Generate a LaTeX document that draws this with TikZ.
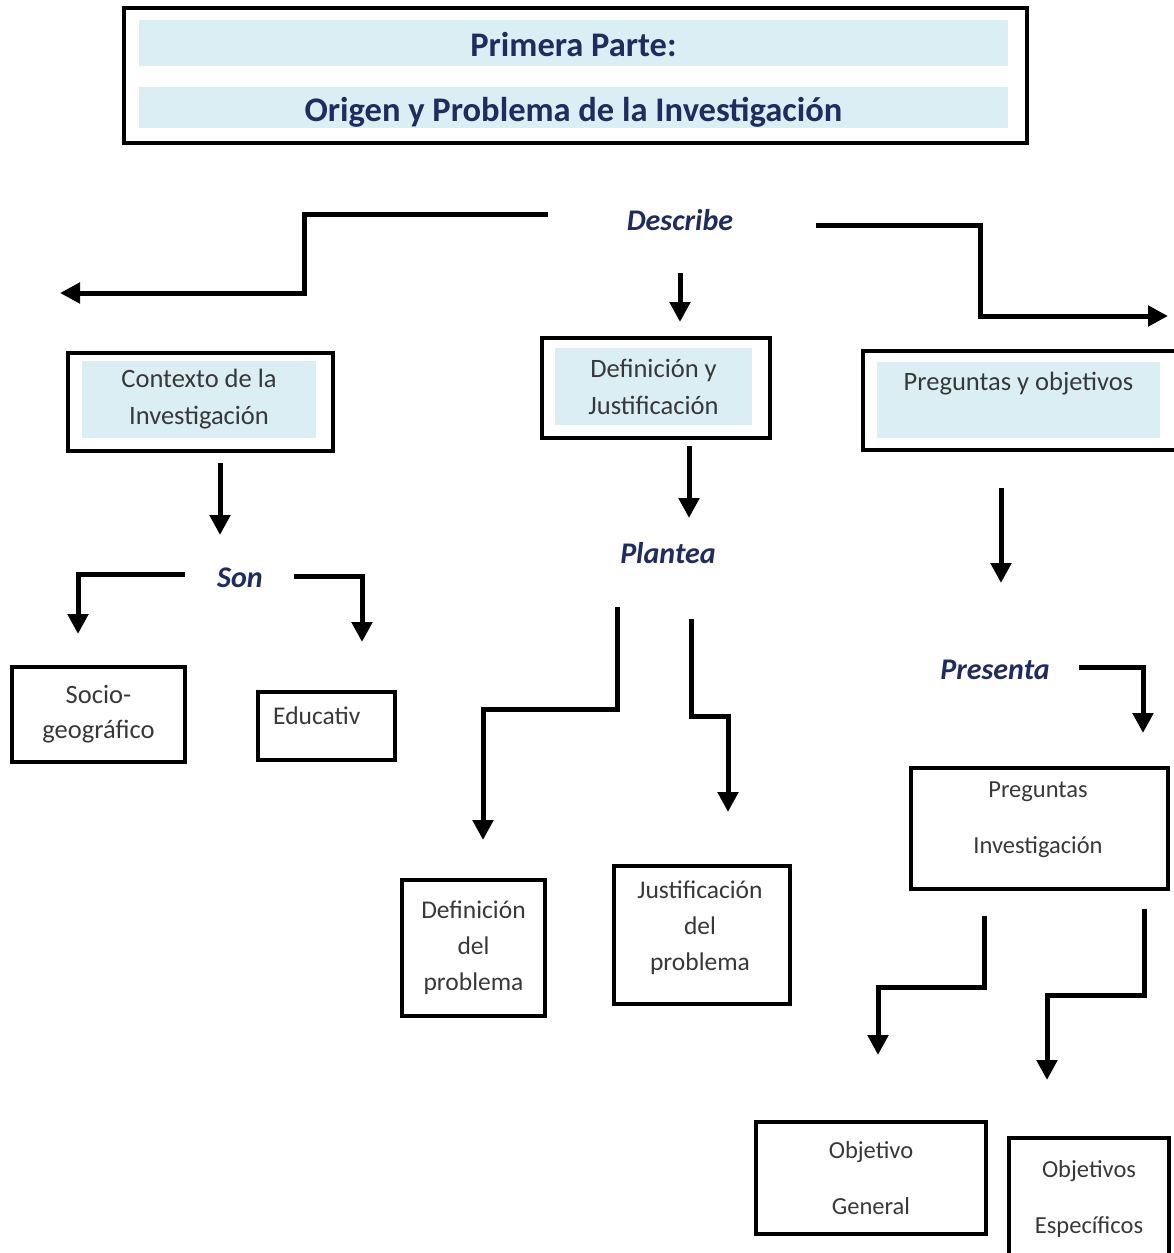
\documentclass[tikz,border=0pt]{standalone}
\usepackage{fontspec}
\setmainfont{Carlito}
\usetikzlibrary{arrows.meta}
\definecolor{celeste}{HTML}{DAEEF3}
\definecolor{azulosc}{RGB}{30,44,96}
\tikzset{
  caja/.style={draw,line width=4pt,inner sep=0pt,align=center,text=black!78},
  fondo/.style={fill=celeste,inner sep=0pt,align=center,text=black!78},
  flecha/.style={-{Triangle[length=20pt,width=20pt]},line width=5pt},
  verbo/.style={font=\fontsize{30}{36}\selectfont\bfseries\itshape,text=azulosc},
  titulo/.style={font=\fontsize{34.5}{40}\selectfont\bfseries,text=azulosc,text height=29pt,text depth=2pt},
  grande/.style={font=\fontsize{26.5}{37}\selectfont},
  medio/.style={font=\fontsize{25.5}{36}\selectfont},
  chico/.style={font=\fontsize{24.5}{56}\selectfont}
}
\begin{document}
\begin{tikzpicture}[x=1pt,y=-1pt]
    \useasboundingbox (0,0) rectangle (1173,1253);
    % titulo
    \node[caja,minimum width=903,minimum height=135] (marco) at (575.5,75.5) {};
    \node[fondo,titulo,minimum width=869,minimum height=46] (parte) at (573.5,43) {Primera Parte:};
    \node[fondo,titulo,minimum width=869,minimum height=41] (origen) at (573.5,107.5) {Origen y Problema de la Investigación};
    % verbos
    \node[verbo] (describe) at (680,220) {Describe};
    \node[verbo] (son) at (240,578) {Son};
    \node[verbo] (plantea) at (668,553) {Plantea};
    \node[verbo] (presenta) at (995,670) {Presenta};
    % cajas de arriba
    \node[caja,minimum width=265,minimum height=98] (contexto) at (200.5,402) {};
    \node[fondo,grande,minimum width=234,minimum height=77] (contexto-txt) at (199,399.5) {Contexto de la\\Investigación};
    \node[caja,minimum width=228,minimum height=100] (defjus) at (656,388) {};
    \node[fondo,grande,minimum width=197,minimum height=77] (defjus-txt) at (653.5,386.5) {Definición y\\Justificación};
    \node[caja,minimum width=315,minimum height=99] (pregobj) at (1020.5,400.5) {};
    \node[fondo,grande,minimum width=283,minimum height=76] (pregobj-txt) at (1018.5,400) {Preguntas y objetivos\\\mbox{}};
    % contexto
    \node[caja,grande,minimum width=173,minimum height=95] (socio) at (98.5,714.5) {Socio-\\[-2pt]geográfico};
    \node[caja,minimum width=137,minimum height=68] (educ) at (326.5,726) {};
    \node[medio,anchor=west,text=black!78,inner sep=0pt] (educ-txt) at (273,716) {Educativ};
    % problema
    \node[caja,medio,minimum width=143,minimum height=136] (defprob) at (473.5,948) {Definición\\del\\problema};
    \node[caja,minimum width=176,minimum height=138] (jusprob) at (702,935) {};
    \node[medio,align=center,text=black!78] (jusprob-txt) at (700,927.5) {Justificación\\del\\problema};
    % preguntas y objetivos
    \node[caja,minimum width=257,minimum height=121] (pregunt) at (1039.5,828.5) {};
    \node[chico,align=center,text=black!78] (pregunt-txt) at (1038,819.5) {Preguntas\\Investigación};
    \node[caja,chico,minimum width=230,minimum height=112] (objgen) at (871,1178) {Objetivo\\General};
    \node[caja,chico,minimum width=160,minimum height=122] (objesp) at (1089,1199) {Objetivos\\Específicos};
    % flechas
    \coordinate (d1) at (548,214); \coordinate (d2) at (304,293); \coordinate (d3) at (60,293);
    \draw[flecha] (d1) -| (d2) -- (d3);
    \coordinate (d4) at (680,273); \coordinate (d5) at (680,322);
    \draw[flecha] (d4) -- (d5);
    \coordinate (d6) at (816,225); \coordinate (d7) at (980,316); \coordinate (d8) at (1168,316);
    \draw[flecha] (d6) -| (d7) -- (d8);
    \coordinate (c1) at (220,463); \coordinate (c2) at (220,535);
    \draw[flecha] (c1) -- (c2);
    \coordinate (s1) at (185,574); \coordinate (s2) at (78,634);
    \draw[flecha] (s1) -| (s2);
    \coordinate (s3) at (294,576); \coordinate (s4) at (362,642);
    \draw[flecha] (s3) -| (s4);
    \coordinate (j1) at (689,446); \coordinate (j2) at (689,518);
    \draw[flecha] (j1) -- (j2);
    \coordinate (p1) at (617,607); \coordinate (p2) at (483,709); \coordinate (p3) at (483,840);
    \draw[flecha] (p1) |- (p2) -- (p3);
    \coordinate (p4) at (691,619); \coordinate (p5) at (728,716); \coordinate (p6) at (728,812);
    \draw[flecha] (p4) |- (p5) -- (p6);
    \coordinate (o1) at (1001,488); \coordinate (o2) at (1001,583);
    \draw[flecha] (o1) -- (o2);
    \coordinate (o3) at (1079,667); \coordinate (o4) at (1143,733);
    \draw[flecha] (o3) -| (o4);
    \coordinate (g1) at (984,916); \coordinate (g2) at (878,987); \coordinate (g3) at (878,1055);
    \draw[flecha] (g1) |- (g2) -- (g3);
    \coordinate (e1) at (1144,909); \coordinate (e2) at (1047,995); \coordinate (e3) at (1047,1080);
    \draw[flecha] (e1) |- (e2) -- (e3);
  \end{tikzpicture}
\end{document}
